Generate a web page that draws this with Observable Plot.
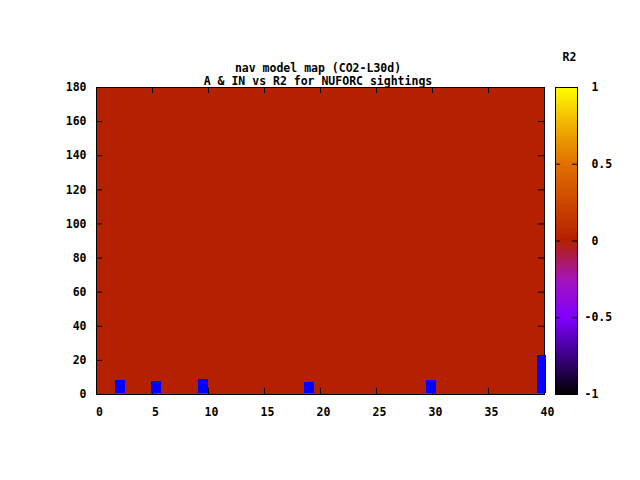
<!DOCTYPE html>
<html>
<head>
<meta charset="utf-8">
<script src="https://cdn.jsdelivr.net/npm/d3@7"></script>
<script src="https://cdn.jsdelivr.net/npm/@observablehq/plot@0.6"></script>
<style>
  body { margin: 0; background: #fff; }
  #wrap { position: relative; width: 640px; height: 480px; background: #fff;
          font-family: "DejaVu Sans Mono", "Liberation Mono", monospace; font-weight: bold; }
  #wrap svg { position: absolute; left: 0; top: 0; background: transparent; }
  .title { position: absolute; left: 0; width: 636px; text-align: center;
           font-size: 11.5px; line-height: 13px; top: 61.5px; color: #000; white-space: pre; }
</style>
</head>
<body>
<div id="wrap">
  <div class="title" id="title"></div>
</div>
<script>
// ---- data ----
const titleLines = ["nav model map (CO2-L30d)", "A & IN vs R2 for NUFORC sightings"];
const xTicks = [0, 5, 10, 15, 20, 25, 30, 35, 40];
const yTicks = [0, 20, 40, 60, 80, 100, 120, 140, 160, 180];
const cbTicks = [-1, -0.5, 0, 0.5, 1];
const cbTickLabels = ["-1", "-0.5", "\u00a00", "\u00a00.5", "\u00a01"];
const colorbarLabel = "R2";

// background map cell (whole A x IN range at R2 ~ 0)
const cellA1 = [0];
const cellA2 = [40];
const cellIN1 = [0];
const cellIN2 = [180];
const cellR2 = [0];

// blue cells
const blueA1 = [1.7, 4.9, 9.1, 18.6, 29.5, 39.4];
const blueA2 = [2.6, 5.8, 10.0, 19.5, 30.4, 40.2];
const blueIN1 = [0.8, 0.8, 0.8, 0.8, 0.8, 0.8];
const blueIN2 = [8.2, 7.6, 8.8, 7.0, 8.2, 22.9];

// palette stops
const paletteStops = ["#000000", "#3c0088", "#8000ff", "#a414b8", "#b42000", "#cc4800", "#e07000", "#f0b000", "#ffff00"];

document.getElementById("title").textContent = titleLines.join("\n");

const palette = d3.piecewise(d3.interpolateRgb, paletteStops);
const colorScale = { type: "linear", domain: [-1, 1], interpolate: palette };
const font = { fontFamily: "'DejaVu Sans Mono', 'Liberation Mono', monospace", fontSize: "11.5px", fontWeight: "bold", background: "transparent", color: "#000" };

const W = 640, H = 480;
const mL = 96, mR = 96, mT = 87, mB = 86;
const plotW = W - mL - mR, plotH = H - mT - mB;
const tl = 6;

const main = Plot.plot({
  width: W, height: H,
  marginLeft: mL, marginRight: mR, marginTop: mT, marginBottom: mB,
  style: font,
  x: { domain: [0, 40] },
  y: { domain: [0, 180] },
  color: colorScale,
  marks: [
    Plot.rect(cellR2, { x1: (d, i) => cellA1[i], x2: (d, i) => cellA2[i], y1: (d, i) => cellIN1[i], y2: (d, i) => cellIN2[i], fill: d => d, shapeRendering: "crispEdges" }),
    Plot.tickX(xTicks, { x: d => d, insetTop: plotH - tl, stroke: "#000" }),
    Plot.tickX(xTicks, { x: d => d, insetBottom: plotH - tl, stroke: "#000" }),
    Plot.tickY(yTicks, { y: d => d, insetRight: plotW - tl, stroke: "#000" }),
    Plot.tickY(yTicks, { y: d => d, insetLeft: plotW - tl, stroke: "#000" }),
    Plot.axisX(xTicks, { anchor: "bottom", tickSize: 0, tickPadding: 13, dx: 3, label: null, fill: "#000" }),
    Plot.axisY(yTicks, { anchor: "left", tickSize: 0, tickPadding: 10, label: null, fill: "#000" }),
    Plot.frame({ stroke: "#000", strokeWidth: 1 }),
    Plot.rect(blueA1, { x1: (d, i) => blueA1[i], x2: (d, i) => blueA2[i], y1: (d, i) => blueIN1[i], y2: (d, i) => blueIN2[i], fill: "#0000ff", shapeRendering: "crispEdges" })
  ]
});

const cbL = 555, cbR = 640 - 577;
const cbW = W - cbL - cbR;
const cbStep = 0.005;
const cbBands = d3.range(-1, 1, cbStep);
const cbMap = new Map(cbTicks.map((t, i) => [t, cbTickLabels[i]]));

const bar = Plot.plot({
  width: W, height: H,
  marginLeft: cbL, marginRight: cbR, marginTop: mT, marginBottom: mB,
  style: font,
  y: { domain: [-1, 1] },
  color: colorScale,
  marks: [
    Plot.rect(cbBands, { y1: d => d, y2: d => d + cbStep * 1.3, fill: d => d + cbStep / 2, shapeRendering: "crispEdges" }),
    Plot.tickY(cbTicks, { y: d => d, insetRight: cbW - 5, stroke: "#000" }),
    Plot.tickY(cbTicks, { y: d => d, insetLeft: cbW - 5, stroke: "#000" }),
    Plot.axisY(cbTicks, { anchor: "right", tickSize: 0, tickPadding: 7, textAnchor: "start", tickFormat: d => cbMap.get(d), label: null, fill: "#000" }),
    Plot.text([colorbarLabel], { frameAnchor: "top", lineAnchor: "middle", dy: -30, dx: 3, text: d => d, fill: "#000" }),
    Plot.frame({ stroke: "#000", strokeWidth: 1 })
  ]
});

const wrap = document.getElementById("wrap");
wrap.appendChild(main);
wrap.appendChild(bar);
</script>
</body>
</html>
